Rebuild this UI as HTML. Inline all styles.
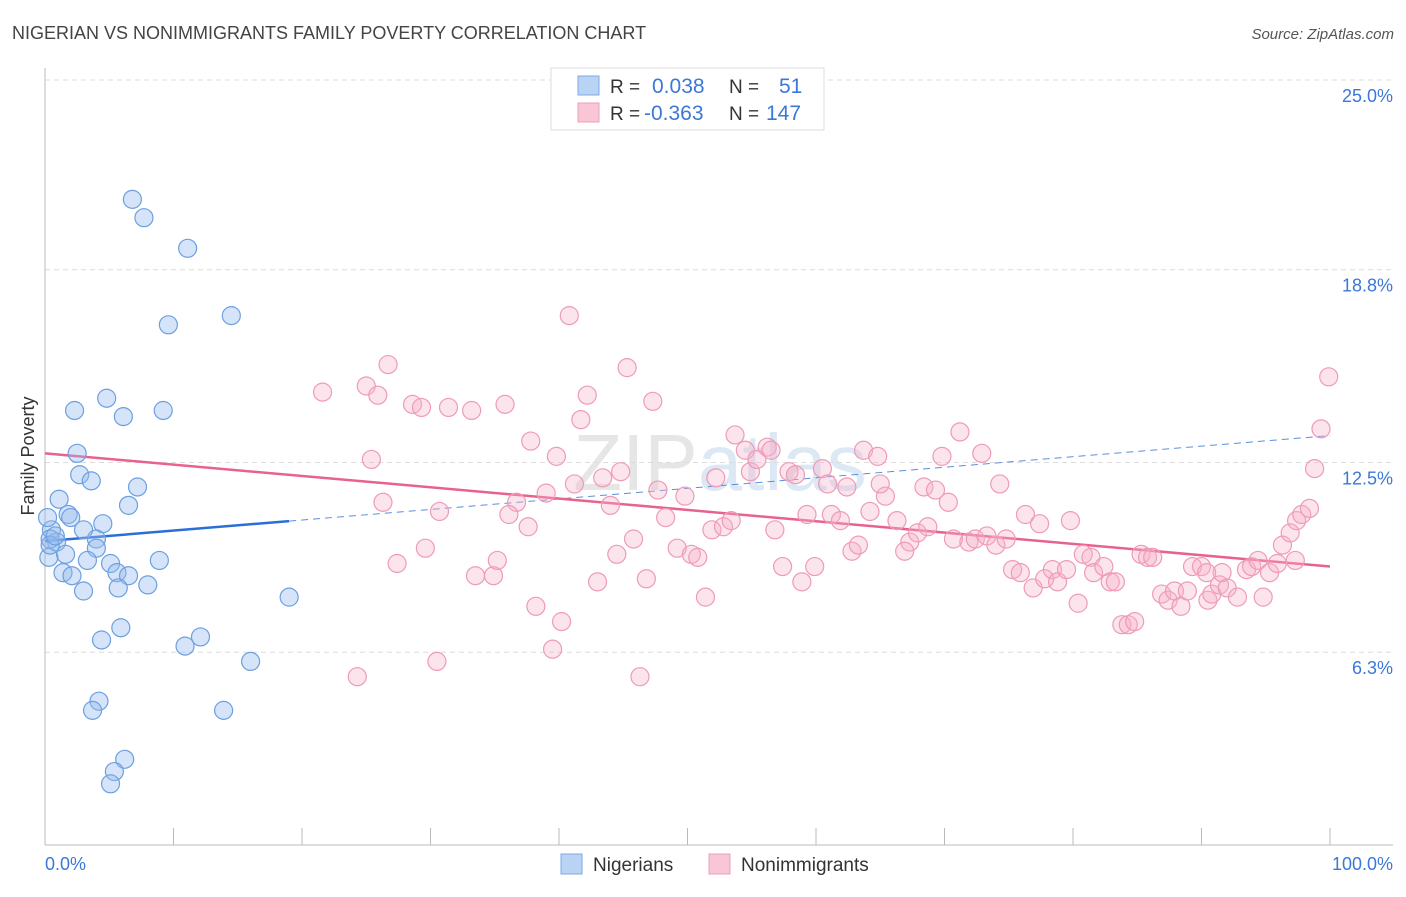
<!DOCTYPE html>
<html><head><meta charset="utf-8"><style>
body{margin:0;background:#fff;font-family:"Liberation Sans",sans-serif;}
svg text{font-family:"Liberation Sans",sans-serif;}
</style></head><body>
<svg id="chart" width="1406" height="892" xmlns="http://www.w3.org/2000/svg">
<text x="12" y="39" font-size="18" fill="#444">NIGERIAN VS NONIMMIGRANTS FAMILY POVERTY CORRELATION CHART</text>
<text x="1394" y="39" font-size="15" fill="#555" font-style="italic" text-anchor="end">Source: ZipAtlas.com</text>
<text x="0" y="0" font-size="18" fill="#333" text-anchor="middle" transform="translate(34,456) rotate(-90)">Family Poverty</text>
<text x="720" y="490" font-size="80" fill="#e6e6e6" text-anchor="middle" font-family="Liberation Serif">ZIP<tspan fill="#dde8f5" font-family="Liberation Sans">atlas</tspan></text>
<g id="grid"></g><g id="axes"></g><g id="trends"></g><g id="pts"></g>
<g>
<rect x="551" y="68" width="273" height="62" fill="#fff" stroke="#ddd"/>
<rect x="578" y="76" width="21" height="19" fill="#b9d3f5" stroke="#7ea9e3"/>
<rect x="578" y="103" width="21" height="19" fill="#f9c6d6" stroke="#ee9db8"/>
<text x="610" y="93" font-size="19" fill="#333">R =</text><text x="652" y="93" font-size="21" fill="#3b78d8">0.038</text>
<text x="729" y="93" font-size="19" fill="#333">N =</text><text x="779" y="93" font-size="21" fill="#3b78d8">51</text>
<text x="610" y="120" font-size="19" fill="#333">R =</text><text x="644" y="120" font-size="21" fill="#3b78d8">-0.363</text>
<text x="729" y="120" font-size="19" fill="#333">N =</text><text x="766" y="120" font-size="21" fill="#3b78d8">147</text>
</g>
<g>
<rect x="561" y="854" width="21" height="20" fill="#b9d3f5" stroke="#7ea9e3"/>
<text x="593" y="871" font-size="19" fill="#333">Nigerians</text>
<rect x="709" y="854" width="21" height="20" fill="#f9c6d6" stroke="#ee9db8"/>
<text x="741" y="871" font-size="19" fill="#333">Nonimmigrants</text>
</g>
</svg>
<script>
const blueX=[6.8,7.7,11.1,9.6,14.5,4.8,2.3,9.2,6.1,2.5,2.7,3.6,7.2,6.5,1.1,1.8,2.0,4.5,3.0,4.0,0.5,0.9,0.3,1.6,4.0,3.3,5.1,8.9,1.4,5.6,6.5,2.1,5.7,8.0,3.0,19.0,5.9,4.4,12.1,10.9,16.0,4.2,3.7,13.9,6.2,5.4,5.1,0.4,0.4,0.2,0.8];
const blueY=[21.1,20.5,19.5,17.0,17.3,14.6,14.2,14.2,14.0,12.8,12.1,11.9,11.7,11.1,11.3,10.8,10.7,10.5,10.3,10.0,10.3,9.9,9.4,9.5,9.7,9.3,9.2,9.3,8.9,8.9,8.8,8.8,8.4,8.5,8.3,8.1,7.1,6.7,6.8,6.5,6.0,4.7,4.4,4.4,2.8,2.4,2.0,10.0,9.8,10.7,10.1];
const pinkX=[40.8,45.3,26.7,21.6,25.0,25.9,28.6,29.3,31.4,33.2,35.8,42.2,47.3,99.9,99.3,41.7,37.8,25.4,39.8,53.7,56.2,71.2,63.7,72.9,69.8,98.8,26.3,30.7,36.7,36.1,37.6,39.0,41.2,43.4,44.8,44.0,47.7,49.8,52.2,54.9,54.5,55.4,56.5,57.9,58.4,60.5,60.9,62.4,64.8,65.4,64.2,65.0,68.4,69.3,70.3,74.3,48.3,51.9,52.8,53.4,56.8,59.3,61.2,61.9,66.3,67.3,67.9,68.7,70.7,71.9,72.4,73.3,74.0,74.8,76.3,77.4,79.8,27.4,29.6,33.5,34.9,35.2,38.2,40.2,39.5,43.0,44.5,45.8,46.8,49.2,50.3,50.8,51.4,57.4,59.9,58.9,62.8,63.3,66.9,75.3,75.9,76.9,77.8,78.4,78.8,79.5,80.4,80.8,81.4,81.6,82.4,82.9,83.3,83.8,84.3,84.8,85.3,85.8,86.2,86.9,87.4,87.9,88.4,88.9,89.3,90.0,90.5,90.8,91.4,91.6,92.0,92.8,93.5,93.9,94.4,94.8,95.3,95.9,96.3,96.9,97.4,97.8,98.4,97.3,24.3,30.5,46.3,90.4];
const pinkY=[17.3,15.6,15.7,14.8,15.0,14.7,14.4,14.3,14.3,14.2,14.4,14.7,14.5,15.3,13.6,13.9,13.2,12.6,12.7,13.4,13.0,13.5,12.9,12.8,12.7,12.3,11.2,10.9,11.2,10.8,10.4,11.5,11.8,12.0,12.2,11.1,11.6,11.4,12.0,12.2,12.9,12.6,12.9,12.2,12.1,12.3,11.8,11.7,12.7,11.4,10.9,11.8,11.7,11.6,11.2,11.8,10.7,10.3,10.4,10.6,10.3,10.8,10.8,10.6,10.6,9.9,10.2,10.4,10.0,9.9,10.0,10.1,9.8,10.0,10.8,10.5,10.6,9.2,9.7,8.8,8.8,9.3,7.8,7.3,6.4,8.6,9.5,10.0,8.7,9.7,9.5,9.4,8.1,9.1,9.1,8.6,9.6,9.8,9.6,9.0,8.9,8.4,8.7,9.0,8.6,9.0,7.9,9.5,9.4,8.9,9.1,8.6,8.6,7.2,7.2,7.3,9.5,9.4,9.4,8.2,8.0,8.3,7.8,8.3,9.1,9.1,8.0,8.2,8.5,8.9,8.4,8.1,9.0,9.1,9.3,8.1,8.9,9.2,9.8,10.2,10.6,10.8,11.0,9.3,5.5,6.0,5.5,8.9];
const yTicks=[6.3,12.5,18.8,25.0];
const yTickLabels=["6.3%","12.5%","18.8%","25.0%"];
const xTicks=[0,10,20,30,40,50,60,70,80,90,100];
const blueTrend=[9.93,0.0345];   // intercept, slope
const pinkTrend=[12.8,-0.037];
const NS="http://www.w3.org/2000/svg";
const xs=v=>45+v*12.85;
const ys=v=>845-v*30.6;
function mk(tag,attrs,parent){const e=document.createElementNS(NS,tag);for(const k in attrs)e.setAttribute(k,attrs[k]);parent.appendChild(e);return e;}
const grid=document.getElementById('grid'),axes=document.getElementById('axes'),tr=document.getElementById('trends'),pts=document.getElementById('pts');
yTicks.forEach((t,i)=>{
 const l=mk('line',{x1:45,x2:1393,y1:ys(t),y2:ys(t),stroke:'#dcdcdc','stroke-dasharray':'5,4'},grid);
 
 
 const tx=mk('text',{x:1393,y:ys(t)+22,'font-size':18,fill:'#3b78d8','text-anchor':'end'},axes);
 tx.textContent=yTickLabels[i];
 
 
});
const ya=mk('line',{x1:45,x2:45,y1:68,y2:845,stroke:'#bbb'},axes);


const xa=mk('line',{x1:45,x2:1393,y1:845,y2:845,stroke:'#bbb'},axes);


xTicks.forEach(t=>{const l=mk('line',{x1:xs(t),x2:xs(t),y1:828,y2:845,stroke:'#bbb'},axes);
 
 });
let t0=mk('text',{x:45,y:870,'font-size':18,fill:'#3b78d8'},axes);t0.textContent='0.0%';


let t1=mk('text',{x:1393,y:870,'font-size':18,fill:'#3b78d8','text-anchor':'end'},axes);t1.textContent='100.0%';


// points
blueX.forEach((x,i)=>{const c=mk('circle',{cx:xs(x),cy:ys(blueY[i]),r:9,fill:'rgba(150,188,238,0.4)',stroke:'#6d9fe0','stroke-width':1.2},pts);
 
 });
pinkX.forEach((x,i)=>{const c=mk('circle',{cx:xs(x),cy:ys(pinkY[i]),r:9,fill:'rgba(246,178,200,0.35)',stroke:'#ef9ab8','stroke-width':1.2},pts);
 
 });
// trends
const bMax=Math.max(...blueX);
const bl=mk('line',{x1:xs(0),y1:ys(blueTrend[0]),x2:xs(bMax),y2:ys(blueTrend[0]+blueTrend[1]*bMax),stroke:'#2a6fd6','stroke-width':2.5},tr);


const bd=mk('line',{x1:xs(bMax),y1:ys(blueTrend[0]+blueTrend[1]*bMax),x2:xs(100),y2:ys(blueTrend[0]+blueTrend[1]*100),stroke:'#5a8fdc','stroke-width':1,'stroke-dasharray':'7,5'},tr);


const pl=mk('line',{x1:xs(0),y1:ys(pinkTrend[0]),x2:xs(100),y2:ys(pinkTrend[0]+pinkTrend[1]*100),stroke:'#e8628f','stroke-width':2.5},tr);


</script>
</body></html>
